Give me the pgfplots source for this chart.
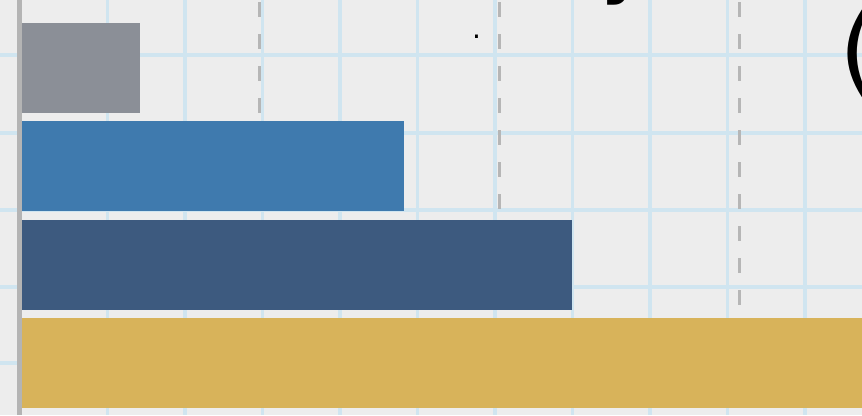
\documentclass[border=0pt]{standalone}
\usepackage{pgfplots}
\pgfplotsset{compat=1.18}
\usepackage{fontspec}
\setmainfont{DejaVu Sans}
\definecolor{bg}{HTML}{EDEDED}
\definecolor{gridblue}{HTML}{D0E5F0}
\definecolor{dashgray}{HTML}{B6B6B6}
\definecolor{axisgray}{HTML}{B4B4B4}
\definecolor{cgray}{HTML}{8B8F97}
\definecolor{cblue}{HTML}{3F7AAE}
\definecolor{cdark}{HTML}{3D5A7F}
\definecolor{cgold}{HTML}{D8B35A}
\begin{document}
\begin{tikzpicture}
\path[use as bounding box] (0pt,0pt) rectangle (862pt,415pt);
\clip (0pt,0pt) rectangle (862pt,415pt);
\fill[bg] (0pt,0pt) rectangle (862pt,415pt);
\foreach \x in {107.5,185,262.5,340,417.5,495,572.5,650,727.5,805}
  \draw[gridblue, line width=3.5pt] (\x pt,0pt) -- (\x pt,415pt);
\foreach \y in {55,133,210,287,363}
  \draw[gridblue, line width=3.5pt] (0pt,415pt-\y pt) -- (862pt,415pt-\y pt);
\begin{axis}[
  at={(19.5pt,0pt)}, anchor=south west,
  scale only axis, width=842.5pt, height=415pt,
  xmin=0, xmax=35.104, ymin=-0.5288, ymax=3.6915,
  clip=false,
  xbar, bar width=90pt,
  ytick=\empty, xtick={10,20,30}, xticklabels={},
  major tick length=0pt,
  axis line style={draw=none},
  xmajorgrids,
  grid style={dashgray, line width=2.5pt, dash pattern=on 15pt off 17pt, dash phase=18pt},
]
\addplot[draw=none, fill=cgold, bar shift=0pt] coordinates {(40,0)};
\addplot[draw=none, fill=cdark, bar shift=0pt] coordinates {(23,1)};
\addplot[draw=none, fill=cblue, bar shift=0pt] coordinates {(16,2)};
\addplot[draw=none, fill=cgray, bar shift=0pt] coordinates {(5,3)};
\draw[axisgray, line width=5pt] (rel axis cs:0,0) -- (rel axis cs:0,1);
\end{axis}
\node[anchor=base west, inner sep=0pt] at (839pt,330pt) {\fontsize{98}{98}\selectfont (};
\node[anchor=base west, inner sep=0pt] at (600pt,428pt) {\fontsize{90}{90}\selectfont y};
\node[anchor=base west, inner sep=0pt] at (472pt,376pt) {\fontsize{28}{28}\selectfont .};
\end{tikzpicture}
\end{document}
